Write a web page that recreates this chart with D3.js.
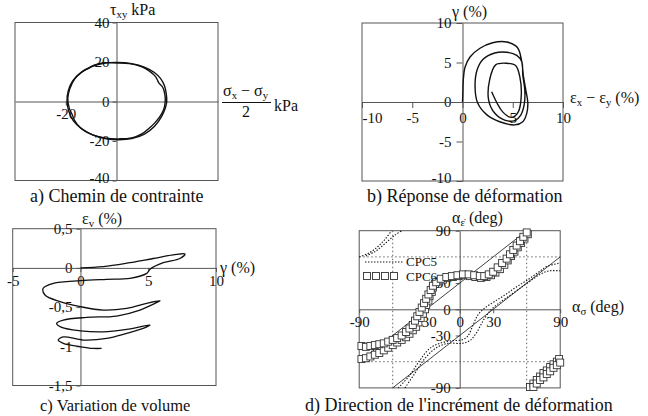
<!DOCTYPE html>
<html><head><meta charset="utf-8">
<script src="https://cdn.jsdelivr.net/npm/d3@7"></script>
<style>
html,body{margin:0;padding:0;background:#fff;}
svg{display:block;font-family:"Liberation Serif","Times New Roman",serif;}
</style></head><body>
<svg id="fig" width="648" height="416"></svg>
<script>
// ---- a) stress path (kPa): two cycles of the rotating shear stress
const stressLoop1 = [[19.8,0],[19.6,4],[18.9,8],[17.4,11.6],[14.8,14.8],[11.2,17.3],[6,19.2],[0,19.8],[-5,19.4],[-10,17.6],[-14,14.6],[-17.2,10.5],[-19,5.5],[-19.5,0],[-18.8,-5],[-17,-9.8],[-13.5,-14],[-9,-17.2],[-4,-18.9],[1,-19.4],[6,-18.8],[11,-16.5],[15,-12.5],[17.8,-7.5],[19.3,-3]];
const stressLoop2 = [[19.2,0],[19.0,4],[18.2,7.2],[16.6,9.6],[15.4,12.6],[13,15.4],[10,17.6],[5,19.2],[0,19.5],[-5,19.6],[-8.8,18.4],[-11,16.8],[-13.6,15],[-16.4,11.6],[-18.4,6.4],[-19.2,1.5],[-18.6,-3.5],[-17.6,-6.2],[-16.6,-9.4],[-14.2,-13.4],[-9.6,-16.8],[-4,-18.6],[1,-18.9],[6,-18.4],[10,-16.4],[13.2,-13.2],[14.8,-11.2],[16.8,-8.2],[18.6,-4]];
const xTicksA = [-20];
const yTicksA = [40, 20, 0, -20, -40];

// ---- b) strain response (%): ex - ey against gamma
const strainPath = [[0,0],[0.03,0.9],[0.08,2.8],[0.25,4.4],[0.75,5.7],[1.74,6.8],[3.0,7.5],[4.4,7.6],[5.3,7.1],[5.6,6.6],[5.9,5.1],[6.07,3.2],[6.3,1.5],[6.5,-0.1],[6.4,-1.4],[6.0,-2.5],[5.2,-2.9],[3.7,-2.5],[2.4,-1.6],[1.5,-0.1],[1.25,1.9],[1.45,4.05],[2.05,5.4],[3.2,6.2],[4.4,6.3],[5.4,5.9],[5.9,5.1],[6.0,3.4],[6.2,1.5],[6.15,-0.25],[5.8,-1.65],[5.2,-2.35],[4.2,-2.3],[3.2,-1.4],[2.6,0.25],[2.7,2.8],[3.3,4.7],[4.4,4.9],[5.3,4.6],[5.7,3.2],[5.85,0.9],[5.55,-1.25],[4.9,-1.95],[4.0,-1.25],[2.9,1.3]];
const xTicksB = [-10, -5, 0, 5, 10];
const yTicksB = [10, 5, 0, -5, -10];

// ---- c) volumetric strain (%) against gamma (%)
const volumePath = [[0,0],[1.68,0.015],[3.65,0.066],[5.37,0.12],[6.85,0.165],[7.71,0.178],[7.34,0.12],[6.11,0.066],[5.13,-0.018],[4.89,-0.07],[3.65,-0.133],[1.93,-0.146],[0,-0.163],[-2.0,-0.197],[-2.75,-0.26],[-2.62,-0.346],[-1.51,-0.43],[0,-0.495],[1.68,-0.538],[3.41,-0.516],[4.89,-0.452],[5.87,-0.42],[5.5,-0.452],[4.39,-0.538],[2.67,-0.614],[0.46,-0.631],[-1.27,-0.665],[-1.76,-0.708],[-1.39,-0.759],[0,-0.802],[1.68,-0.815],[3.41,-0.784],[5.13,-0.729],[4.63,-0.771],[3.41,-0.835],[1.93,-0.9],[0.2,-0.92],[-1.27,-0.88],[-1.64,-0.92],[-1.27,-0.963],[0,-1.006],[0.94,-1.027],[1.56,-1.027]];
const xTicksC = [-5, 0, 5, 10];
const yTicksC = [0.5, 0, -0.5, -1, -1.5];

// ---- d) strain increment direction against stress direction (deg)
const coaxialLines = [[[-90,-60],[60,90]], [[-60,-90],[90,60]]];
const gridD = [-60, 60];
const cpc5Curves = [
  [[-90,60],[-82,64],[-74,71],[-67,80],[-61,90]],
  [[-84,61],[-76,66],[-68,74],[-59,84],[-52,90]],
  [[-55,-90],[-45,-76],[-36,-59],[-27,-45],[-18,-39],[-7,-36],[2,-35],[7,-31],[12,-18],[16,-7],[22,1],[30,8],[40,16],[50,25],[60,33],[70,42],[78,49],[90,53]],
  [[-49,-90],[-40,-73],[-31,-56],[-22,-45],[-11,-39],[2,-39],[9,-36],[15,-27],[21,-13],[27,-2],[34,6],[44,15],[55,25],[65,34],[72,40],[80,44],[90,44]]
];
const cpc6Points = [
  [-88,-57],[-84,-56],[-80,-54],[-76,-52],[-72,-50],[-68,-47],[-64,-44],[-60,-41],[-56,-38],[-52,-35],[-48,-32],[-45,-28],[-42,-24],[-39,-20],[-37,-15],[-35,-10],[-33,-5],[-31,0],[-30,5],[-28,10],[-27,15],[-25,20],[-24,25],[-22,29],[-19,32],[-15,34],[-11,36],[-6,37],[-1,38],[4,39],[9,38],[14,37],[19,36],[24,37],[28,39],[32,42],[36,46],[40,51],[43,56],[46,61],[49,66],[52,71],[55,76],[58,81],[61,86],
  [-88,-42],[-84,-43],[-80,-42],[-76,-41],[-72,-40],[-68,-39],[-64,-37],[-60,-35],[-56,-33],[-52,-30],[-48,-26],[-45,-22],[-42,-18],[-40,-13],[-38,-8],[-36,-3],[-34,2],[-32,7],[-30,12],[-28,17],[-26,22],[-24,27],[-21,31],[-17,35],[-12,37],[-7,38],[-2,39],[3,40],[8,40],[13,39],[18,38],[22,38],[26,40],[30,43],[34,48],[38,53],[42,58],[45,63],[48,68],[51,73],[54,78],[57,83],[60,88],
  [63,-89],[66,-85],[69,-81],[72,-77],[75,-73],[78,-70],[81,-66],[84,-63],[87,-60],[89,-57],
  [66,-89],[69,-85],[72,-81],[75,-78],[78,-74],[81,-71],[84,-67],[87,-64],[90,-61]
];
const xTicksD = [-90, -30, 0, 30, 90];
const yTicksD = [90, 30, 0, -30, -90];

const svg = d3.select("#fig");
const INK = "#111";
const FRAME = "#555";
const TICK_FS = 15;
const TITLE_FS = 16;

function makePanel(c) {
  const x = d3.scaleLinear().domain(c.xDomain).range([c.left, c.right]);
  const y = d3.scaleLinear().domain(c.yDomain).range([c.bottom, c.top]);
  const g = svg.append("g");
  g.append("rect")
    .attr("x", c.left).attr("y", c.top)
    .attr("width", c.right - c.left).attr("height", c.bottom - c.top)
    .attr("fill", "none").attr("stroke", FRAME).attr("stroke-width", 1);
  const fmt = c.fmt || (d => String(d));
  const yAxis = d3.axisLeft(y).tickValues(c.yTicks).tickFormat(fmt)
    .tickSize(c.tick).tickSizeOuter(0).tickPadding(c.pad);
  const xAxis = d3.axisBottom(x).tickValues(c.xTicks).tickFormat(fmt)
    .tickSize(c.tick).tickSizeOuter(0).tickPadding(c.padX);
  const ga = g.append("g").attr("class", "axes");
  const gy = ga.append("g").attr("transform", `translate(${x(0)},0)`).call(yAxis);
  const gx = ga.append("g").attr("transform", `translate(0,${y(0)})`).call(xAxis);
  ga.selectAll("path.domain").attr("stroke", FRAME).attr("stroke-width", 1);
  ga.selectAll(".tick line").attr("stroke", FRAME);
  ga.selectAll(".tick text").attr("font-family", "Liberation Serif, serif")
    .attr("font-size", TICK_FS).attr("fill", INK);
  // keep the leftmost x label inside the frame when asked
  if (c.firstInside) {
    gx.selectAll(".tick").filter(d => d === c.xDomain[0]).select("text")
      .attr("text-anchor", "start");
  }
  // lift the lowest y label a little so it clears the caption below
  if (c.liftBottom) {
    gy.selectAll(".tick").filter(d => d === c.yDomain[0]).select("text")
      .attr("dy", "0.12em");
  }
  return {g, x, y};
}

// ---- panel a
{
  const p = makePanel({left:15, right:218, top:22.5, bottom:180.5,
    xDomain:[-40,40], yDomain:[-40,40], xTicks:xTicksA, yTicks:yTicksA,
    tick:4, pad:3, padX:3, liftBottom:true});
  const line = d3.line().x(d => p.x(d[0])).y(d => p.y(d[1])).curve(d3.curveCatmullRomClosed);
  [stressLoop1, stressLoop2].forEach(l =>
    p.g.append("path").attr("d", line(l)).attr("fill", "none")
      .attr("stroke", INK).attr("stroke-width", 1.4));
}

// ---- panel b
{
  const p = makePanel({left:362, right:563, top:23, bottom:181,
    xDomain:[-10,10], yDomain:[-10,10], xTicks:xTicksB, yTicks:yTicksB,
    tick:6, pad:5, padX:4, firstInside:true, liftBottom:true});
  const line = d3.line().x(d => p.x(d[0])).y(d => p.y(d[1])).curve(d3.curveCatmullRom);
  p.g.append("path").attr("d", line(strainPath)).attr("fill", "none")
    .attr("stroke", INK).attr("stroke-width", 1.4);
}

// ---- panel c
{
  const p = makePanel({left:12.7, right:216, top:228.7, bottom:385.5,
    xDomain:[-5,10], yDomain:[-1.5,0.5], xTicks:xTicksC, yTicks:yTicksC,
    tick:4, pad:4, padX:3, fmt: d => String(d).replace(".", ",")});
  const line = d3.line().x(d => p.x(d[0])).y(d => p.y(d[1])).curve(d3.curveCatmullRom);
  p.g.append("path").attr("d", line(volumePath)).attr("fill", "none")
    .attr("stroke", INK).attr("stroke-width", 1.3);
}

// ---- panel d
{
  const p = makePanel({left:359.2, right:560.2, top:230.7, bottom:387.9,
    xDomain:[-90,90], yDomain:[-90,90], xTicks:xTicksD, yTicks:yTicksD,
    tick:4, pad:5, padX:3});
  const grid = p.g.insert("g", ".axes");
  gridD.forEach(v => {
    grid.append("line").attr("x1", p.x(v)).attr("x2", p.x(v))
      .attr("y1", p.y(90)).attr("y2", p.y(-90));
    grid.append("line").attr("y1", p.y(v)).attr("y2", p.y(v))
      .attr("x1", p.x(-90)).attr("x2", p.x(90));
  });
  grid.selectAll("line").attr("stroke", "#555").attr("stroke-width", 0.9)
    .attr("stroke-dasharray", "1.5,2.5");
  const lin = d3.line().x(d => p.x(d[0])).y(d => p.y(d[1]));
  coaxialLines.forEach(l => p.g.append("path").attr("d", lin(l))
    .attr("fill", "none").attr("stroke", INK).attr("stroke-width", 0.8));
  const curve = d3.line().x(d => p.x(d[0])).y(d => p.y(d[1])).curve(d3.curveCatmullRom);
  cpc5Curves.forEach(cv => p.g.append("path").attr("d", curve(cv))
    .attr("fill", "none").attr("stroke", INK).attr("stroke-width", 1.1)
    .attr("stroke-dasharray", "1.4,1.6"));
  const S = 7;
  p.g.append("g").selectAll("rect").data(cpc6Points).join("rect")
    .attr("x", d => p.x(d[0]) - S/2).attr("y", d => p.y(d[1]) - S/2)
    .attr("width", S).attr("height", S)
    .attr("fill", "#fff").attr("stroke", "#333").attr("stroke-width", 0.9);

  // legend
  const lg = p.g.append("g").attr("fill", INK);
  lg.append("line").attr("x1", 365).attr("x2", 403).attr("y1", 262).attr("y2", 262)
    .attr("stroke", INK).attr("stroke-width", 1.1).attr("stroke-dasharray", "1.4,1.6");
  lg.append("text").attr("x", 406).attr("y", 266).attr("font-size", 13).text("CPC5");
  [367, 376, 385, 394].forEach(cx => lg.append("rect")
    .attr("x", cx - 3.5).attr("y", 272.5).attr("width", 7).attr("height", 7)
    .attr("fill", "#fff").attr("stroke", "#333").attr("stroke-width", 0.9));
  lg.append("text").attr("x", 406).attr("y", 281).attr("font-size", 13).text("CPC6");
}

// ---- axis titles
const T = svg.append("g").attr("fill", INK);
function title(x, y, parts) {
  const t = T.append("text").attr("x", x).attr("y", y).attr("font-size", TITLE_FS);
  parts.forEach(p => {
    const s = t.append("tspan").text(p.t);
    if (p.sub) s.attr("font-size", TITLE_FS * 0.68).attr("dy", 3);
    if (p.up) s.attr("dy", -3);
  });
  return t;
}
title(110, 15, [{t:"τ"}, {t:"xy", sub:true}, {t:" kPa", up:true}]);
title(223, 96, [{t:"σ"}, {t:"x", sub:true}, {t:" − σ", up:true}, {t:"y", sub:true}]);
T.append("line").attr("x1", 222).attr("x2", 271).attr("y1", 102.5).attr("y2", 102.5)
  .attr("stroke", INK).attr("stroke-width", 1);
T.append("text").attr("x", 246).attr("y", 117).attr("text-anchor", "middle")
  .attr("font-size", TITLE_FS).text("2");
T.append("text").attr("x", 274).attr("y", 111).attr("font-size", TITLE_FS).text("kPa");

title(452, 17, [{t:"γ (%)"}]);
title(570, 103, [{t:"ε"}, {t:"x", sub:true}, {t:" − ε", up:true}, {t:"y", sub:true}, {t:" (%)", up:true}]);

title(82, 224, [{t:"ε"}, {t:"v", sub:true}, {t:" (%)", up:true}]);
title(220, 273, [{t:"γ (%)"}]);

title(452, 223, [{t:"α"}, {t:"ε\u0307", sub:true}, {t:" (deg)", up:true}]);
title(572, 312, [{t:"α"}, {t:"σ", sub:true}, {t:" (deg)", up:true}]);

// ---- captions
const C = svg.append("g").attr("fill", INK);
C.append("text").attr("x", 30).attr("y", 202).attr("font-size", 18).text("a) Chemin de contrainte");
C.append("text").attr("x", 367).attr("y", 202).attr("font-size", 18).text("b) Réponse de déformation");
C.append("text").attr("x", 40).attr("y", 411).attr("font-size", 16.5).text("c) Variation de volume");
C.append("text").attr("x", 305).attr("y", 411).attr("font-size", 18).text("d) Direction de l'incrément de déformation");
</script>
</body></html>
